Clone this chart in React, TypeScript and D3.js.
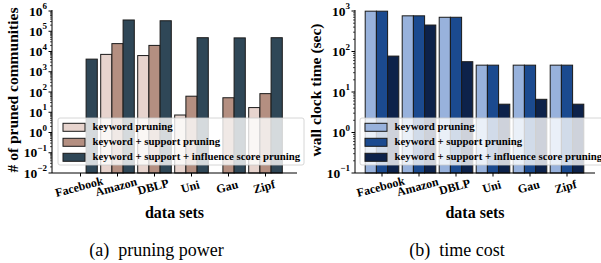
import React from 'react'
import * as d3 from 'd3'

// data sets shown on both panels
const dataSets = ['Facebook', 'Amazon', 'DBLP', 'Uni', 'Gau', 'Zipf']
const seriesLabels = [
    'keyword pruning',
    'keyword + support pruning',
    'keyword + support + influence score pruning',
]

// (a) pruning power, null = no bar drawn
const prunedKeyword = [null, 7200, 6300, 7.3, null, 17]
const prunedSupport = [null, 24500, 20000, 62, 52, 83]
const prunedInfluence = [4200, 360000, 330000, 48000, 47000, 48000]

// (b) time cost in seconds
const timeKeyword = [990, 760, 700, 46, 46, 46]
const timeSupport = [990, 760, 700, 46, 46, 46]
const timeInfluence = [77, 450, 56, 5.0, 6.6, 5.0]

const pruneColors = ['#e7d4ce', '#b48f81', '#2f4757']
const timeColors = ['#98b2dc', '#1b4a8f', '#0d224a']

const FONT = '"Liberation Serif", "DejaVu Serif", serif'

interface PanelProps {
    series: (number | null)[][],
    colors: string[],
    yDomain: [number, number],
    axisLeft: number,
    axisRight: number,
    firstCenter: number,
    step: number,
    yLabel: string,
    yLabelX: number,
    legendX: number,
    caption: string,
}

const TOP = 11
const BOTTOM = 173
const BAR_W = 11.2

const superscript = (e: number) => (e < 0 ? '\u2212' + Math.abs(e) : String(e))

const Panel = (props: PanelProps) => {
    const { series, colors, yDomain, axisLeft, axisRight, firstCenter, step } = props
    const y = d3.scaleLog().domain(yDomain).range([BOTTOM, TOP])
    const x = d3.scaleLinear().domain([0, dataSets.length - 1]).range([firstCenter, firstCenter + step * (dataSets.length - 1)])

    const lo = Math.round(Math.log10(yDomain[0]))
    const hi = Math.round(Math.log10(yDomain[1]))
    const majors = d3.range(lo, hi + 1)
    const minors: number[] = []
    for (let e = lo; e < hi; e++) {
        for (let k = 2; k <= 9; k++) minors.push(k * Math.pow(10, e))
    }

    return (
        <g style={{ fontFamily: FONT }}>
            {/* bars */}
            {series.map((values, j) => values.map((v, i) => {
                if (v == null) return null
                const x0 = x(i) + (j - 1) * BAR_W - BAR_W / 2
                return (
                    <rect
                        key={`${j}-${i}`}
                        x={x0}
                        y={y(v)}
                        width={BAR_W}
                        height={BOTTOM - y(v)}
                        fill={colors[j]}
                        stroke='#1a1a1a'
                        strokeWidth={1}
                    />
                )
            }))}

            {/* y axis */}
            <line x1={axisLeft} x2={axisLeft} y1={TOP - 1} y2={BOTTOM} stroke='#000' strokeWidth={1} />
            {majors.map((e) => (
                <g key={e}>
                    <line x1={axisLeft - 3.5} x2={axisLeft} y1={y(Math.pow(10, e))} y2={y(Math.pow(10, e))} stroke='#000' />
                    <text x={axisLeft - 5} y={y(Math.pow(10, e)) + 4.5} textAnchor='end' fontWeight='bold' fontSize={13.5}>
                        10<tspan dy={-6.5} fontSize={9}>{superscript(e)}</tspan>
                    </text>
                </g>
            ))}
            {minors.map((v, i) => (
                <line key={i} x1={axisLeft - 2} x2={axisLeft} y1={y(v)} y2={y(v)} stroke='#000' strokeWidth={0.7} />
            ))}
            <text
                transform={`translate(${props.yLabelX}, ${(TOP + BOTTOM) / 2 - 2}) rotate(-90)`}
                textAnchor='middle'
                dominantBaseline='middle'
                fontWeight='bold'
                fontSize={15.5}
            >
                {props.yLabel}
            </text>

            {/* x axis */}
            <line x1={axisLeft} x2={axisRight} y1={BOTTOM} y2={BOTTOM} stroke='#000' strokeWidth={1} />
            {dataSets.map((name, i) => (
                <g key={name}>
                    <line x1={x(i)} x2={x(i)} y1={BOTTOM} y2={BOTTOM + 3.5} stroke='#000' />
                    <text
                        transform={`translate(${x(i) - 1}, ${BOTTOM + 15}) rotate(-15)`}
                        textAnchor='middle'
                        dominantBaseline='middle'
                        fontWeight='bold'
                        fontSize={12}
                    >
                        {name}
                    </text>
                </g>
            ))}
            <text x={(axisLeft + axisRight) / 2} y={218} textAnchor='middle' fontWeight='bold' fontSize={16}>
                data sets
            </text>

            {/* legend */}
            <g transform={`translate(${props.legendX}, 118)`}>
                <rect x={0} y={0} width={246} height={47} rx={2} fill='rgba(255,255,255,0.8)' stroke='#cccccc' strokeWidth={0.8} />
                {seriesLabels.map((label, j) => (
                    <g key={label} transform={`translate(0, ${9.3 + j * 15})`}>
                        <rect x={5} y={-4} width={22} height={8} fill={colors[j]} stroke='#1a1a1a' strokeWidth={1} />
                        <text x={34.5} y={0} dominantBaseline='middle' fontWeight='bold' fontSize={10.8}>
                            {label}
                        </text>
                    </g>
                ))}
            </g>

            <text x={(axisLeft + axisRight) / 2 - 18} y={256} textAnchor='middle' fontSize={18} style={{ whiteSpace: 'pre' }}>
                {props.caption}
            </text>
        </g>
    )
}

export default function App () {
    return (
        <svg width={601} height={263} style={{ position: 'absolute', left: 0, top: 0, background: '#fff' }}>
            <Panel
                series={[prunedKeyword, prunedSupport, prunedInfluence]}
                colors={pruneColors}
                yDomain={[1e-2, 1e6]}
                axisLeft={52}
                axisRight={297}
                firstCenter={80.5}
                step={37}
                yLabel='# of pruned communities'
                yLabelX={14}
                legendX={58}
                caption={'(a)  pruning power'}
            />
            <Panel
                series={[timeKeyword, timeSupport, timeInfluence]}
                colors={timeColors}
                yDomain={[1e-1, 1e3]}
                axisLeft={355}
                axisRight={595}
                firstCenter={382}
                step={37}
                yLabel='wall clock time (sec)'
                yLabelX={317}
                legendX={360}
                caption={'(b)  time cost'}
            />
        </svg>
    )
}
